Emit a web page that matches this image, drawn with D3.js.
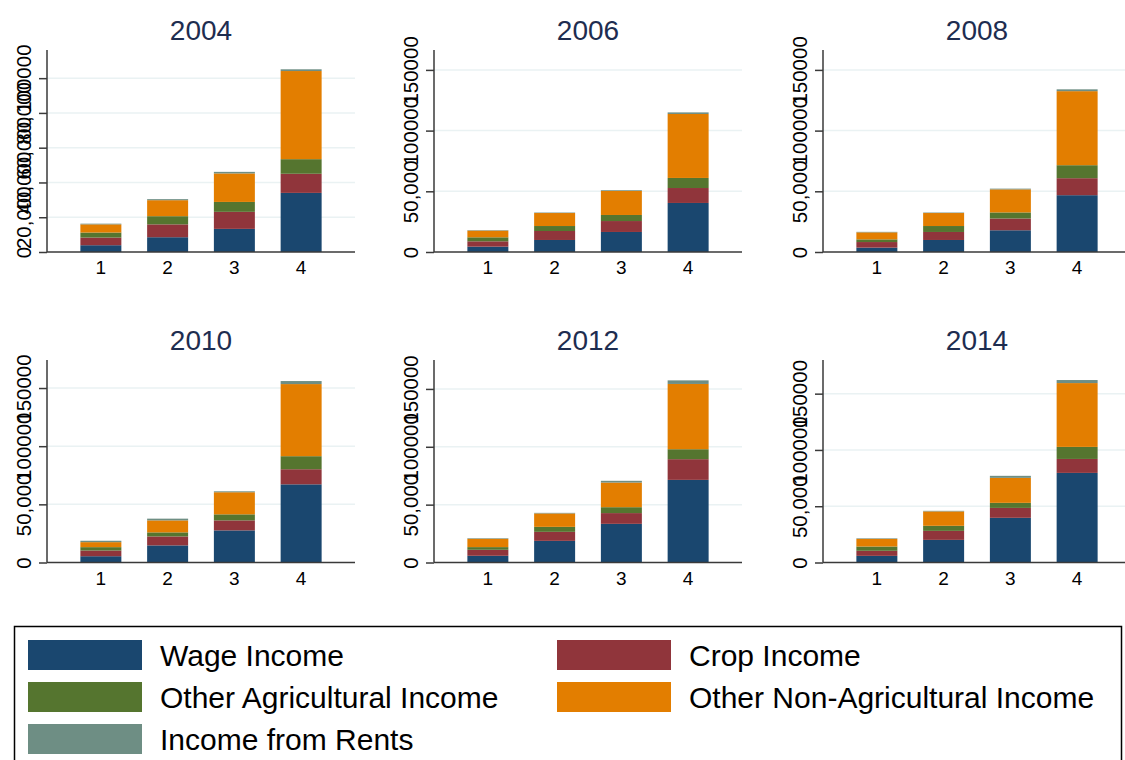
<!DOCTYPE html>
<html>
<head>
<meta charset="utf-8">
<script src="https://cdn.jsdelivr.net/npm/d3@7/dist/d3.min.js"></script>
<style>
  html, body { margin: 0; padding: 0; background: #ffffff; }
  svg { display: block; font-family: "Liberation Sans", Arial, sans-serif; }
</style>
</head>
<body>
<svg id="chart" width="1125" height="760"></svg>
<script>
// ---------------- DATA ----------------
const years = ["2004", "2006", "2008", "2010", "2012", "2014"];
const quintiles = ["1", "2", "3", "4"];
const seriesNames = ["Wage Income", "Crop Income", "Other Agricultural Income", "Other Non-Agricultural Income", "Income from Rents"];

// values per year (rows) and quintile (columns)
const wageIncome = [
  [3900, 8500, 13300, 34000],
  [4400, 9900, 16500, 40400],
  [3600, 9900, 17900, 46800],
  [5400, 14700, 27600, 67200],
  [5800, 18700, 33400, 71400],
  [5900, 20100, 39700, 79600]
];
const cropIncome = [
  [4400, 7400, 9800, 11000],
  [4400, 7400, 9000, 12300],
  [4600, 6600, 9700, 14000],
  [4900, 7700, 8600, 13000],
  [5200, 7800, 9300, 17900],
  [4500, 8000, 8800, 12400]
];
const otherAgIncome = [
  [2900, 4700, 5700, 8400],
  [3300, 4100, 5000, 8300],
  [2200, 4900, 5000, 10700],
  [2900, 3500, 5200, 11200],
  [2300, 4300, 5100, 8600],
  [3800, 4500, 4500, 10700]
];
const otherNonAgIncome = [
  [4700, 9200, 16400, 50700],
  [5500, 10700, 19800, 52700],
  [5800, 10700, 19000, 61000],
  [4300, 10300, 19000, 62000],
  [7200, 11600, 21300, 56400],
  [6800, 12800, 22200, 56700]
];
const rentsIncome = [
  [400, 600, 900, 1000],
  [400, 400, 600, 1300],
  [400, 400, 600, 1500],
  [1200, 1500, 800, 2600],
  [500, 500, 1500, 3100],
  [500, 500, 1800, 2700]
];

// axis ticks per panel
const yTicks = [
  [0, 20000, 40000, 60000, 80000, 100000],
  [0, 50000, 100000, 150000],
  [0, 50000, 100000, 150000],
  [0, 50000, 100000, 150000],
  [0, 50000, 100000, 150000],
  [0, 50000, 100000, 150000]
];
const yTickLabels = [
  ["0", "20,000", "40,000", "60,000", "80,000", "100000"],
  ["0", "50,000", "100000", "150000"],
  ["0", "50,000", "100000", "150000"],
  ["0", "50,000", "100000", "150000"],
  ["0", "50,000", "100000", "150000"],
  ["0", "50,000", "100000", "150000"]
];
const yDomainMax = [116200, 166400, 166400, 174100, 175000, 179900];

// ---------------- STYLE / LAYOUT ----------------
const colors = ["#1a476f", "#90353b", "#55752f", "#e37e00", "#6e8e84"];
const seriesData = [wageIncome, cropIncome, otherAgIncome, otherNonAgIncome, rentsIncome];

const colX = [47, 434, 823];
const plotW = 308;
const rowTop = [50, 360];
const rowBottom = [252, 562.5];

const svg = d3.select("#chart");

years.forEach((year, yi) => {
  const col = yi % 3, row = Math.floor(yi / 3);
  const x0 = colX[col], top = rowTop[row], bottom = rowBottom[row];
  const g = svg.append("g");

  const x = d3.scaleBand().domain(quintiles).range([x0, x0 + plotW]).paddingInner(0.386).paddingOuter(0.5);
  const y = d3.scaleLinear().domain([0, yDomainMax[yi]]).range([bottom, top]);

  // gridlines
  g.selectAll("line.grid").data(yTicks[yi].filter(v => v > 0)).join("line")
    .attr("class", "grid")
    .attr("x1", x0).attr("x2", x0 + plotW)
    .attr("y1", d => y(d)).attr("y2", d => y(d))
    .attr("stroke", "#eaf2f3").attr("stroke-width", 1.5);

  // stacked bars
  const rows = quintiles.map((q, qi) => {
    const o = { q };
    seriesNames.forEach((s, si) => { o[s] = seriesData[si][yi][qi]; });
    return o;
  });
  const stacked = d3.stack().keys(seriesNames)(rows);
  stacked.forEach((layer, si) => {
    g.selectAll(null).data(layer).join("rect")
      .attr("x", d => x(d.data.q))
      .attr("width", x.bandwidth())
      .attr("y", d => y(d[1]))
      .attr("height", d => y(d[0]) - y(d[1]))
      .attr("fill", colors[si]);
  });

  // y axis
  const yAxis = d3.axisLeft(y).tickValues(yTicks[yi])
    .tickFormat((d, i) => yTickLabels[yi][i]).tickSize(8).tickSizeOuter(0);
  const ya = g.append("g").attr("transform", `translate(${x0},0)`).call(yAxis);
  ya.select(".domain").attr("stroke", "#3a3a3a").attr("stroke-width", 1.5)
    .attr("d", `M0,${top}V${bottom}`);
  ya.selectAll(".tick line").attr("stroke", "#3a3a3a").attr("stroke-width", 1.5);
  ya.selectAll(".tick text")
    .attr("transform", "rotate(-90)")
    .attr("x", 0).attr("y", -16.5).attr("dy", 0)
    .attr("text-anchor", "middle")
    .attr("font-size", 20.5)
    .attr("font-family", "Liberation Sans, Arial, sans-serif")
    .attr("fill", "#000");

  // x axis
  const xAxis = d3.axisBottom(x).tickSize(0).tickPadding(10);
  const xa = g.append("g").attr("transform", `translate(0,${bottom})`).call(xAxis);
  xa.select(".domain").attr("stroke", "#3a3a3a").attr("stroke-width", 1.5)
    .attr("d", `M${x0},0H${x0 + plotW}`);
  xa.selectAll(".tick text")
    .attr("font-size", 19)
    .attr("font-family", "Liberation Sans, Arial, sans-serif")
    .attr("fill", "#000")
    .attr("dy", "0.65em");

  // title
  g.append("text")
    .attr("x", x0 + plotW / 2)
    .attr("y", top - 10)
    .attr("text-anchor", "middle")
    .attr("font-size", 28)
    .attr("fill", "#1e2d50")
    .text(year);
});

// ---------------- LEGEND ----------------
const legend = svg.append("g");
legend.append("rect")
  .attr("x", 14.5).attr("y", 626.5).attr("width", 1107).attr("height", 145)
  .attr("fill", "#fff").attr("stroke", "#000").attr("stroke-width", 1.5);

const legendCols = [28, 557];
const legendRows = [640, 682, 724];
seriesNames.forEach((s, i) => {
  const lx = legendCols[i % 2], ly = legendRows[Math.floor(i / 2)];
  legend.append("rect")
    .attr("x", lx).attr("y", ly).attr("width", 114).attr("height", 30)
    .attr("fill", colors[i]);
  legend.append("text")
    .attr("x", lx + 132).attr("y", ly + 26)
    .attr("font-size", 30)
    .attr("fill", "#000")
    .text(s);
});
</script>
</body>
</html>
